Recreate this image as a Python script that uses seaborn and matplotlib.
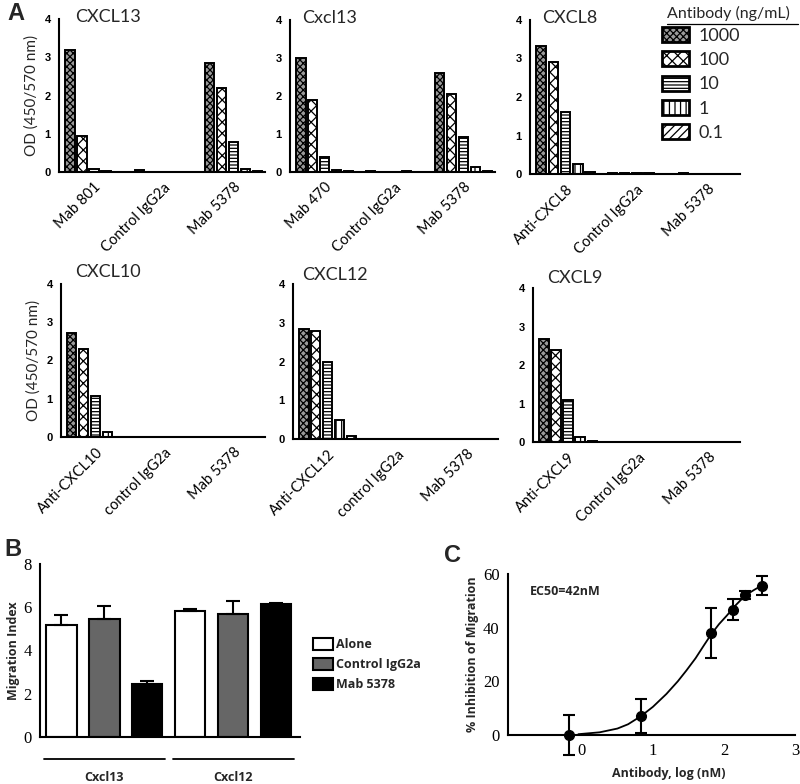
import matplotlib
matplotlib.use("Agg")
import matplotlib.pyplot as plt
import seaborn as sns
import numpy as np
import pandas as pd
from matplotlib.patches import Patch
from matplotlib.lines import Line2D

# --- Data: panel A (ELISA, OD 450/570) ---
CONCS = ["1000", "100", "10", "1", "0.1"]
HATCHES = ["xxxxx", "xxx", "-----", "|||", "////"]
CONC_FILL = {"1000": "#9a9a9a", "100": "white", "10": "white", "1": "white", "0.1": "white"}

PANELS_A = [
    # title, group labels, values per group (one per concentration)
    ("CXCL13", ["Mab 801", "Control IgG2a", "Mab 5378"],
     [[3.20, 0.95, 0.08, 0.02, 0.00],
      [0.04, 0.00, 0.01, 0.00, 0.00],
      [2.85, 2.20, 0.78, 0.08, 0.02]]),
    ("Cxcl13", ["Mab 470", "Control IgG2a", "Mab 5378"],
     [[3.00, 1.90, 0.40, 0.05, 0.02],
      [0.03, 0.00, 0.00, 0.02, 0.00],
      [2.60, 2.05, 0.92, 0.14, 0.03]]),
    ("CXCL8", ["Anti-CXCL8", "Control IgG2a", "Mab 5378"],
     [[3.32, 2.92, 1.60, 0.25, 0.04],
      [0.02, 0.02, 0.02, 0.02, 0.00],
      [0.02, 0.00, 0.00, 0.00, 0.00]]),
    ("CXCL10", ["Anti-CXCL10", "control IgG2a", "Mab 5378"],
     [[2.72, 2.30, 1.07, 0.12, 0.00],
      [0.00, 0.00, 0.00, 0.00, 0.00],
      [0.00, 0.00, 0.00, 0.00, 0.00]]),
    ("CXCL12", ["Anti-CXCL12", "control IgG2a", "Mab 5378"],
     [[2.83, 2.78, 1.98, 0.50, 0.08],
      [0.00, 0.00, 0.00, 0.00, 0.00],
      [0.00, 0.00, 0.00, 0.00, 0.00]]),
    ("CXCL9", ["Anti-CXCL9", "Control IgG2a", "Mab 5378"],
     [[2.68, 2.40, 1.08, 0.13, 0.02],
      [0.00, 0.00, 0.00, 0.00, 0.00],
      [0.00, 0.00, 0.00, 0.00, 0.00]]),
]

# --- Data: panel B (migration index) ---
B_GROUPS = ["Cxcl13", "Cxcl12"]
B_TREATS = ["Alone", "Control IgG2a", "Mab 5378"]
B_MEANS = [5.19, 5.47, 2.45, 5.82, 5.70, 6.15]
B_ERRS = [0.43, 0.60, 0.15, 0.11, 0.59, 0.04]
B_COLORS = {"Alone": "white", "Control IgG2a": "#666666", "Mab 5378": "black"}

# --- Data: panel C (dose response) ---
C_X = [-0.18, 0.83, 1.82, 2.13, 2.30, 2.53]
C_Y = [0.0, 7.0, 38.0, 46.6, 52.0, 55.7]
C_ERR = [7.5, 6.3, 9.2, 3.9, 1.5, 3.6]
CURVE_X = [-0.05, 0.25, 0.5, 0.65, 0.83, 1.0, 1.19, 1.35, 1.47, 1.6, 1.72,
           1.82, 1.93, 2.04, 2.17, 2.3, 2.42, 2.53]
CURVE_Y = [0.3, 1.0, 2.4, 4.0, 7.0, 10.5, 15.3, 20.0, 24.0, 28.6, 33.5,
           37.5, 41.3, 44.5, 48.5, 52.0, 54.0, 55.7]

W, H = 800, 784
sns.set_theme(style="white")
plt.rcParams["font.family"] = ["Lato", "DejaVu Sans"]
plt.rcParams["hatch.linewidth"] = 0.9

fig = plt.figure(figsize=(W / 100, H / 100), dpi=100)


def add_ax(left, top, right, bottom):
    return fig.add_axes([left / W, 1 - bottom / H, (right - left) / W, (bottom - top) / H])


def style_spines(ax, ticklen, pad=2):
    sns.despine(ax=ax)
    for s in ["left", "bottom"]:
        ax.spines[s].set_linewidth(1.5)
        ax.spines[s].set_color("black")
    ax.tick_params(axis="both", direction="out", length=ticklen, width=1.3, colors="black", pad=pad)


# --- Panel A ---
A_BOXES = [(59, 19, 265, 172), (290, 20, 495, 172), (530, 20, 740, 174),
           (61, 284, 265, 437), (293, 284, 498, 439), (533, 288, 740, 442)]
A_TITLE_POS = [(0.08, 1.01), (0.06, 1.01), (0.06, 1.01),
               (0.07, 1.08), (0.045, 1.06), (0.07, 1.065)]

for i, ((title, groups, vals), box) in enumerate(zip(PANELS_A, A_BOXES)):
    ax = add_ax(*box)
    rows = []
    for g, gv in zip(groups, vals):
        for c, v in zip(CONCS, gv):
            rows.append({"group": g, "conc": c, "od": v})
    df = pd.DataFrame(rows)
    sns.barplot(data=df, x="group", y="od", hue="conc", order=groups, hue_order=CONCS,
                palette=CONC_FILL, saturation=1, edgecolor="black",
                linewidth=1.4, width=0.86, gap=0.22, legend=False, ax=ax)
    for cont, hatch in zip(ax.containers, HATCHES):
        for bar in cont:
            bar.set_hatch(hatch)
    ax.set_xlim(-0.5, 2.45)
    ax.set_ylim(0, 4)
    ax.set_yticks([0, 1, 2, 3, 4])
    ax.set_xlabel("")
    if i % 3 == 0:
        ax.set_ylabel("OD (450/570 nm)", fontsize=11, labelpad=4)
    else:
        ax.set_ylabel("")
    ax.set_xticks(range(3))
    ax.set_xticklabels(groups, rotation=45, ha="right", rotation_mode="anchor", fontsize=10.5)
    for lab in ax.get_yticklabels():
        lab.set_fontweight("bold")
        lab.set_fontsize(8)
        lab.set_family("Liberation Sans")
    style_spines(ax, 4)
    tx, ty = A_TITLE_POS[i]
    ax.text(tx, ty, title, transform=ax.transAxes, fontsize=13, va="center", ha="left")

# Panel A legend
fig.text(667 / W, 1 - 13 / H, "Antibody (ng/mL)", fontsize=11.5, va="center", ha="left")
fig.add_artist(Line2D([667 / W, 798 / W], [1 - 24 / H, 1 - 24 / H], color="black", lw=0.9))
a_handles = [Patch(facecolor=CONC_FILL[c], edgecolor="black", hatch=h, linewidth=2)
             for c, h in zip(CONCS, HATCHES)]
fig.legend(a_handles, CONCS, loc="upper left", bbox_to_anchor=(662 / W, 1 - 27 / H),
           frameon=False, fontsize=13, handlelength=1.5, handleheight=0.9,
           handletextpad=0.5, labelspacing=0.42, borderaxespad=0, borderpad=0)

# --- Panel B ---
axb = add_ax(40, 564, 300, 737)
b_rows = []
k = 0
for g in B_GROUPS:
    for t in B_TREATS:
        b_rows.append({"pos": f"{g} {t}", "treat": t, "value": B_MEANS[k]})
        k += 1
dfb = pd.DataFrame(b_rows)
sns.barplot(data=dfb, x="pos", y="value", hue="treat", hue_order=B_TREATS, dodge=False,
            palette=B_COLORS, saturation=1, edgecolor="black", linewidth=1.5,
            width=0.7, legend=False, ax=axb)
axb.errorbar(range(len(B_MEANS)), B_MEANS, yerr=[np.zeros(len(B_ERRS)), B_ERRS],
             fmt="none", ecolor="black", elinewidth=1.5, capsize=5, capthick=1.5, zorder=1)
axb.set_xlim(-0.5, 5.55)
axb.set_ylim(0, 8)
axb.set_yticks([0, 2, 4, 6, 8])
axb.set_xticklabels([])
axb.set_xlabel("")
axb.set_ylabel("Migration Index", fontsize=9, fontweight="bold", family="Open Sans")
axb.yaxis.set_label_coords(-0.075, 0.5)
for lab in axb.get_yticklabels():
    lab.set_family("Liberation Serif")
    lab.set_fontsize(12)
style_spines(axb, 5, pad=1)
for gi, g in enumerate(B_GROUPS):
    x0, x1 = gi * 3 - 0.4, gi * 3 + 2.4
    axb.plot([x0, x1], [-0.13, -0.13], transform=axb.get_xaxis_transform(), color="black",
             lw=1.3, clip_on=False)
    axb.text((x0 + x1) / 2, -0.235, g, transform=axb.get_xaxis_transform(), ha="center",
             va="center", fontsize=9, fontweight="bold", family="Open Sans")

b_handles = [Patch(facecolor=B_COLORS[t], edgecolor="black", linewidth=1.5) for t in B_TREATS]
fig.legend(b_handles, B_TREATS, loc="upper left", bbox_to_anchor=(313 / W, 1 - 638 / H),
           frameon=False, prop={"family": "Open Sans", "weight": "bold", "size": 9},
           handlelength=1.6, handleheight=1.1, handletextpad=0.25, labelspacing=0.55,
           borderaxespad=0, borderpad=0)

# --- Panel C ---
axc = add_ax(508, 574, 795, 735)
sns.lineplot(x=CURVE_X, y=CURVE_Y, color="black", lw=1.3, ax=axc)
axc.errorbar(C_X, C_Y, yerr=C_ERR, fmt="o", color="black", ms=7, elinewidth=1.5,
             capsize=4, capthick=1.5, clip_on=False, zorder=3)
axc.set_xlim(-1.04, 3)
axc.set_ylim(0, 60)
axc.set_xticks([0, 1, 2, 3])
axc.set_yticks([0, 20, 40, 60])
axc.set_xlabel("Antibody, log (nM)", fontsize=9, fontweight="bold", family="Open Sans")
axc.xaxis.set_label_coords(0.56, -0.2)
axc.set_ylabel("% Inhibition of Migration", fontsize=9, fontweight="bold", family="Open Sans")
axc.yaxis.set_label_coords(-0.1, 0.5)
for lab in axc.get_xticklabels() + axc.get_yticklabels():
    lab.set_family("Liberation Serif")
    lab.set_fontsize(12)
style_spines(axc, 5, pad=1)
axc.text(-0.73, 53.5, "EC50=42nM", fontsize=9, fontweight="bold", family="Open Sans",
         va="center", ha="left")

# panel letters
fig.text(7 / W, 1 - 14 / H, "A", fontsize=17, fontweight="bold", family="Liberation Sans", va="center")
fig.text(4 / W, 1 - 549 / H, "B", fontsize=17, fontweight="bold", family="Liberation Sans", va="center")
fig.text(444 / W, 1 - 555 / H, "C", fontsize=17, fontweight="bold", family="Liberation Sans", va="center")

fig.savefig("out.png", dpi=100, facecolor="white")
